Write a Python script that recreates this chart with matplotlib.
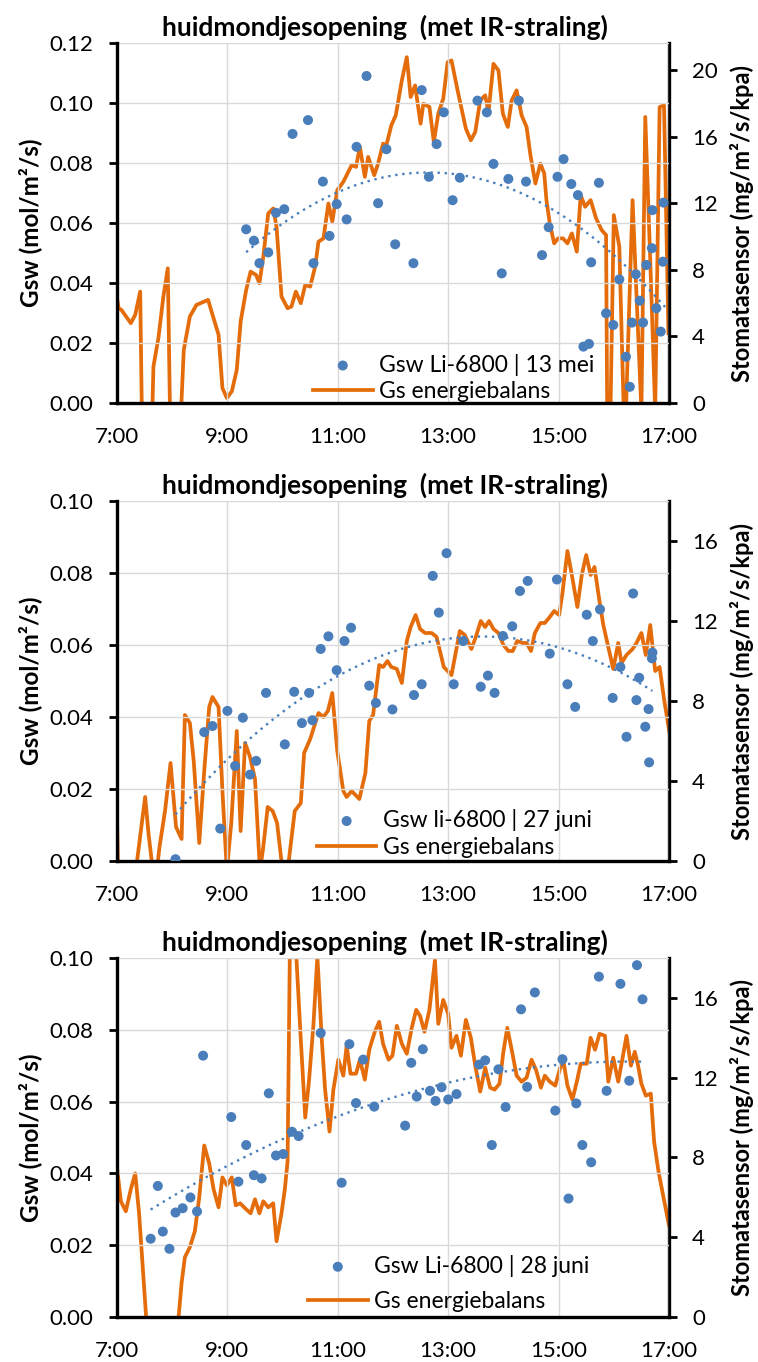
import numpy as np
import matplotlib.pyplot as plt
from matplotlib.ticker import FixedLocator, FuncFormatter, MultipleLocator

plt.rcParams['font.family'] = ['Lato', 'DejaVu Sans']

ORANGE = "#E46C0A"
BLUE = "#4A7EBB"
GRID = "#D9D9D9"

# ---------------- 13 mei ----------------
t1_gsw = [9.34, 9.48, 9.58, 9.74, 9.88, 10.03, 10.18, 10.46, 10.56, 10.73, 10.85, 10.98,
          11.16, 11.34, 11.52, 11.73, 11.88, 12.04, 12.37, 12.52, 12.65, 12.79, 12.92,
          13.08, 13.21, 13.53, 13.70, 13.82, 13.97, 14.09, 14.28, 14.41, 14.70, 14.82,
          14.98, 15.09, 15.23, 15.35, 15.45, 15.55, 15.59, 15.73, 15.86, 15.99, 16.10,
          16.22, 16.29, 16.33, 16.40, 16.47, 16.53, 16.59, 16.69, 16.70, 16.77, 16.85,
          16.89, 16.90]
gsw1 = [0.0579, 0.0541, 0.0466, 0.0502, 0.0634, 0.0646, 0.0897, 0.0943, 0.0466, 0.0738,
        0.0557, 0.0663, 0.0612, 0.0854, 0.1090, 0.0666, 0.0846, 0.0529, 0.0466, 0.1043,
        0.0754, 0.0863, 0.0969, 0.0676, 0.0751, 0.1008, 0.0969, 0.0797, 0.0432, 0.0747,
        0.1008, 0.0738, 0.0493, 0.0586, 0.0754, 0.0813, 0.0730, 0.0693, 0.0188, 0.0197,
        0.0469, 0.0734, 0.0299, 0.0260, 0.0412, 0.0154, 0.0054, 0.0268, 0.0429, 0.0341,
        0.0268, 0.0460, 0.0516, 0.0643, 0.0316, 0.0238, 0.0471, 0.0668]
# Excel trendline of this day (Excel's own fit differs a bit)
t1_trend = [9.34, 10.26, 11.04, 12.31, 12.85, 14.06, 15.27, 16.23, 16.93]
g1_trend = [0.0499, 0.0632, 0.0712, 0.0763, 0.0766, 0.0719, 0.0599, 0.0454, 0.0321]
t1_gs = [7.00, 7.03, 7.08, 7.25, 7.33, 7.42, 7.45, 7.64, 7.66, 7.75, 7.84, 7.92, 7.96,
         8.16, 8.21, 8.32, 8.44, 8.65, 8.84, 8.91, 8.99, 9.08, 9.17, 9.24, 9.34, 9.42,
         9.52, 9.58, 9.65, 9.74, 9.83, 9.89, 9.98, 10.09, 10.16, 10.24, 10.33, 10.41,
         10.50, 10.59, 10.65, 10.74, 10.83, 10.90, 10.99, 11.10, 11.25, 11.33, 11.40,
         11.49, 11.55, 11.66, 11.73, 11.82, 11.88, 11.97, 12.05, 12.16, 12.25, 12.32,
         12.40, 12.50, 12.55, 12.66, 12.74, 12.82, 12.91, 12.99, 13.06, 13.17, 13.32,
         13.41, 13.49, 13.58, 13.67, 13.73, 13.82, 13.91, 13.99, 14.08, 14.15, 14.24,
         14.33, 14.42, 14.49, 14.58, 14.67, 14.74, 14.78, 14.84, 14.92, 14.99, 15.08,
         15.16, 15.24, 15.33, 15.40, 15.48, 15.58, 15.68, 15.78, 15.86, 15.88, 15.94,
         16.00, 16.10, 16.18, 16.22, 16.34, 16.41, 16.50, 16.57, 16.66, 16.75, 16.83,
         16.91, 16.99]
gs1 = [6.3, 5.7, 5.6, 4.8, 5.3, 6.7, -0.5, -0.5, 2.2, 3.9, 6.4, 8.1, -0.5,
       -0.5, 3.2, 5.2, 5.9, 6.2, 4.1, 0.9, 0.3, 0.7, 2.0, 4.9, 6.8, 7.9,
       7.7, 7.2, 8.8, 11.4, 11.7, 10.6, 6.4, 5.7, 5.8, 6.7, 6.0, 7.1,
       7.0, 8.2, 9.7, 9.9, 12.0, 10.9, 12.8, 13.3, 14.3, 14.2, 15.4,
       13.6, 14.8, 13.7, 14.4, 15.6, 15.5, 16.7, 17.3, 19.4, 20.8, 18.4,
       19.1, 16.8, 18.0, 17.8, 15.7, 17.4, 18.3, 20.5, 20.6, 18.8, 16.5,
       15.8, 16.3, 18.2, 18.5, 17.5, 20.4, 20.0, 17.4, 16.6, 18.2, 18.8,
       17.3, 16.6, 14.9, 13.2, 14.4, 13.8, 12.2, 10.8, 9.6, 9.9, 9.9,
       9.6, 10.2, 9.1, 12.5, 11.8, 12.2, 11.1, 10.4, 10.1, -0.5, -0.5,
       11.3, 9.4, -0.5, -0.5, 12.2, 6.6, -0.5, 17.2, 8.6, -0.5, 17.8,
       17.9, 4.2]

# ---------------- 27 juni ----------------
t2_gsw = [8.06, 8.58, 8.73, 8.87, 9.00, 9.14, 9.28, 9.41, 9.52, 9.70, 10.04, 10.21,
          10.35, 10.48, 10.54, 10.69, 10.83, 10.98, 11.12, 11.24, 11.57, 11.69, 11.99,
          12.38, 12.52, 12.72, 12.83, 12.97, 13.10, 13.27, 13.59, 13.72, 13.84, 13.99,
          14.16, 14.30, 14.44, 14.84, 14.97, 15.16, 15.30, 15.51, 15.62, 15.75, 15.98,
          16.12, 16.23, 16.35, 16.41, 16.46, 16.57, 16.63, 16.64, 16.69, 16.70]
gsw2 = [0.0005, 0.0358, 0.0375, 0.0090, 0.0417, 0.0264, 0.0398, 0.0240, 0.0278, 0.0467,
        0.0324, 0.0470, 0.0383, 0.0467, 0.0391, 0.0589, 0.0624, 0.0530, 0.0611, 0.0648,
        0.0487, 0.0439, 0.0421, 0.0461, 0.0491, 0.0792, 0.0690, 0.0855, 0.0491, 0.0611,
        0.0484, 0.0515, 0.0467, 0.0625, 0.0652, 0.0750, 0.0778, 0.0576, 0.0782, 0.0491,
        0.0428, 0.0684, 0.0611, 0.0699, 0.0453, 0.0539, 0.0345, 0.0743, 0.0447, 0.0509,
        0.0373, 0.0422, 0.0274, 0.0563, 0.0579]
t2_gs = [7.00, 7.02, 7.34, 7.51, 7.57, 7.65, 7.72, 7.77, 7.87, 7.97, 8.07, 8.17, 8.23,
         8.32, 8.39, 8.49, 8.58, 8.67, 8.73, 8.84, 8.91, 8.99, 9.07, 9.17, 9.24, 9.32,
         9.41, 9.50, 9.59, 9.65, 9.73, 9.82, 9.90, 10.00, 10.09, 10.22, 10.33, 10.39,
         10.50, 10.65, 10.74, 10.82, 10.90, 10.99, 11.10, 11.16, 11.25, 11.39, 11.50,
         11.57, 11.64, 11.75, 11.82, 11.90, 11.97, 12.07, 12.16, 12.25, 12.32, 12.41,
         12.49, 12.58, 12.70, 12.79, 12.92, 13.06, 13.21, 13.30, 13.42, 13.50, 13.59,
         13.67, 13.74, 13.82, 13.91, 14.00, 14.09, 14.17, 14.25, 14.35, 14.42, 14.50,
         14.57, 14.67, 14.75, 14.84, 14.92, 15.01, 15.07, 15.16, 15.24, 15.34, 15.42,
         15.50, 15.58, 15.65, 15.74, 15.81, 15.90, 15.99, 16.08, 16.14, 16.23, 16.34,
         16.41, 16.50, 16.58, 16.66, 16.75, 16.83, 16.91, 17.01]
gs2 = [2.1, -0.5, -0.5, 3.2, 1.4, -0.5, -0.5, 0.7, 2.5, 4.9, 1.7, 1.1, 7.3,
       6.9, 5.0, 0.9, 4.5, 7.7, 8.2, 7.7, 3.5, -0.5, 1.9, 6.5, 1.5, 5.9,
       5.2, 4.1, -0.5, 0.7, 2.7, 2.5, 1.9, -0.5, -0.5, 2.5, 2.9, 5.4,
       6.1, 7.4, 7.2, 7.5, 8.4, 5.5, 3.5, 3.2, 3.5, 3.1, 4.4,
       7.0, 7.3, 9.8, 9.7, 10.0, 9.7, 9.6, 8.9, 11.0, 11.7, 12.3,
       11.6, 11.4, 11.4, 11.2, 9.7, 9.3, 11.5, 11.3, 10.6, 11.2, 12.0,
       11.7, 12.0, 11.6, 11.4, 10.8, 10.5, 10.5, 11.0, 10.9, 10.9, 10.5,
       11.4, 11.9, 11.9, 12.2, 12.5, 12.3, 13.4, 15.5, 14.3, 12.7, 14.3,
       15.3, 14.3, 14.7, 13.0, 11.8, 10.7, 9.6, 10.9, 9.9, 10.3, 10.6,
       10.9, 11.4, 10.3, 11.8, 9.5, 9.7, 8.1, 6.4]

# ---------------- 28 juni ----------------
t3_gsw = [7.61, 7.74, 7.83, 7.95, 8.06, 8.19, 8.33, 8.45, 8.56, 9.07, 9.20, 9.34,
          9.48, 9.62, 9.75, 9.88, 10.01, 10.17, 10.29, 10.69, 11.07, 11.21, 11.33,
          11.46, 11.66, 12.22, 12.33, 12.43, 12.54, 12.67, 12.77, 12.88, 13.00, 13.15,
          13.56, 13.67, 13.79, 13.91, 14.04, 14.32, 14.43, 14.57, 14.94, 15.07, 15.18,
          15.32, 15.43, 15.59, 15.73, 15.87, 16.12, 16.28, 16.42, 16.52]
gsw3 = [0.0218, 0.0365, 0.0238, 0.0190, 0.0291, 0.0303, 0.0333, 0.0294, 0.0728, 0.0557,
        0.0377, 0.0479, 0.0395, 0.0386, 0.0623, 0.0450, 0.0454, 0.0516, 0.0504, 0.0791,
        0.0374, 0.0760, 0.0596, 0.0717, 0.0586, 0.0533, 0.0708, 0.0614, 0.0746, 0.0630,
        0.0602, 0.0640, 0.0606, 0.0621, 0.0703, 0.0715, 0.0479, 0.0690, 0.0585, 0.0857,
        0.0641, 0.0904, 0.0575, 0.0718, 0.0330, 0.0595, 0.0479, 0.0431, 0.0948, 0.0630,
        0.0928, 0.0658, 0.0980, 0.0885]
t3_gs = [7.00, 7.07, 7.16, 7.25, 7.33, 7.40, 7.54, 8.10, 8.17, 8.23, 8.32, 8.41, 8.49,
         8.58, 8.67, 8.75, 8.84, 8.91, 8.99, 9.08, 9.15, 9.23, 9.34, 9.42, 9.50, 9.58,
         9.65, 9.74, 9.83, 9.89, 9.98, 10.04, 10.09, 10.13, 10.18, 10.25, 10.33, 10.41,
         10.48, 10.56, 10.63, 10.71, 10.77, 10.85, 10.92, 11.01, 11.10, 11.16, 11.23,
         11.33, 11.40, 11.49, 11.57, 11.67, 11.75, 11.82, 11.92, 11.99, 12.07, 12.16,
         12.25, 12.34, 12.42, 12.49, 12.57, 12.66, 12.76, 12.82, 12.91, 13.00, 13.06,
         13.15, 13.23, 13.32, 13.41, 13.49, 13.58, 13.67, 13.76, 13.84, 13.93, 14.00,
         14.07, 14.15, 14.24, 14.33, 14.42, 14.51, 14.59, 14.68, 14.75, 14.84, 14.94,
         15.03, 15.09, 15.16, 15.25, 15.33, 15.40, 15.51, 15.58, 15.66, 15.74, 15.84,
         15.90, 15.99, 16.08, 16.16, 16.23, 16.31, 16.38, 16.44, 16.50, 16.58, 16.67,
         16.73, 16.81, 16.90, 17.00]
gs3 = [7.5, 5.8, 5.3, 6.4, 7.2, 5.2, -0.5, -0.5, 1.7, 3.0, 3.5, 4.3, 6.0,
       8.6, 7.7, 6.4, 5.5, 7.0, 6.6, 7.0, 5.6, 5.7, 5.4, 5.2, 5.9, 5.2,
       5.8, 5.5, 5.7, 3.8, 5.2, 6.4, 7.8, 18.0, 19.5, 18.0, 13.9, 10.0,
       11.9, 14.7, 18.1, 13.9, 11.4, 9.3, 11.4, 12.9, 12.1, 13.6, 12.2,
       12.2, 12.9, 11.9, 13.4, 14.3, 14.8, 13.7, 12.9, 13.1, 14.6, 13.7,
       13.2, 14.5, 15.4, 15.1, 14.3, 15.4, 17.9, 14.7, 15.9, 15.2, 13.5,
       14.1, 13.1, 14.9, 14.0, 12.6, 11.3, 12.5, 11.5, 11.4, 11.7, 13.3,
       14.5, 13.4, 12.1, 11.8, 12.0, 12.9, 12.4, 11.5, 12.1, 11.8, 11.6,
       12.5, 12.8, 11.6, 10.9, 11.8, 12.7, 12.7, 14.0, 13.4, 14.2, 14.1,
       11.8, 13.0, 11.8, 13.0, 14.1, 12.6, 13.3, 12.6, 11.7, 11.1, 11.2,
       8.8, 7.3, 6.0, 4.6]

panels = [
    dict(t_gsw=t1_gsw, gsw=gsw1, t_gs=t1_gs, gs=gs1, trend=(t1_trend, g1_trend),
         ymax=0.12, rmax=21.65, label="Gsw Li-6800 | 13 mei",
         top=43, bottom=403, leg=(0.355, 0.004), lsp=0.22),
    dict(t_gsw=t2_gsw, gsw=gsw2, t_gs=t2_gs, gs=gs2, trend=None,
         ymax=0.10, rmax=18.0, label="Gsw li-6800 | 27 juni",
         top=501, bottom=861, leg=(0.362, 0.009), lsp=0.25),
    dict(t_gsw=t3_gsw, gsw=gsw3, t_gs=t3_gs, gs=gs3, trend=None,
         ymax=0.10, rmax=18.0, label="Gsw Li-6800 | 28 juni",
         top=958, bottom=1317, leg=(0.346, 0.014), lsp=0.62),
]

W, H = 758, 1362
FS = 16

fig = plt.figure(figsize=(W / 100, H / 100), dpi=100)

for p in panels:
    left, right = 117, 669
    ax = fig.add_axes([left / W, 1 - p["bottom"] / H, (right - left) / W,
                       (p["bottom"] - p["top"]) / H])
    ax2 = ax.twinx()
    ax.set_zorder(1)
    ax.patch.set_visible(False)
    ax2.set_zorder(0)

    ax.set_xlim(7, 17)
    ax.set_ylim(0, p["ymax"])
    ax2.set_ylim(0, p["rmax"])

    ax.xaxis.set_major_locator(FixedLocator([7, 9, 11, 13, 15, 17]))
    ax.xaxis.set_major_formatter(FuncFormatter(lambda v, pos: f"{int(round(v))}:00"))
    ax.yaxis.set_major_locator(MultipleLocator(0.02))
    ax.yaxis.set_major_formatter(FuncFormatter(lambda v, pos: f"{v:.2f}"))
    ax2.yaxis.set_major_locator(MultipleLocator(4))

    ax.grid(True, color=GRID, linewidth=1.0)
    ax.set_axisbelow(True)

    for a in (ax, ax2):
        a.spines["top"].set_visible(False)
        for s in ("left", "right", "bottom"):
            a.spines[s].set_linewidth(2.4)
            a.spines[s].set_color("black")
    ax.spines["right"].set_visible(False)
    ax2.spines["left"].set_visible(False)
    ax2.spines["bottom"].set_visible(False)

    ax.tick_params(axis="y", direction="out", length=6, width=2, labelsize=FS, pad=11)
    ax.tick_params(axis="x", length=0, labelsize=FS, pad=17)
    ax2.tick_params(axis="y", direction="out", length=6, width=2, labelsize=FS, pad=10.5)

    line, = ax2.plot(p["t_gs"], p["gs"], color=ORANGE, linewidth=2.7,
                     label="Gs energiebalans")
    sc = ax.scatter(p["t_gsw"], p["gsw"], s=52, color=BLUE, edgecolors="none",
                    label=p["label"], zorder=3)

    # 2nd order polynomial trendline
    if p["trend"] is None:
        tx, ty = np.asarray(p["t_gsw"]), np.asarray(p["gsw"])
    else:
        tx, ty = np.asarray(p["trend"][0]), np.asarray(p["trend"][1])
    coef = np.polyfit(tx, ty, 2)
    tt = np.linspace(tx.min(), tx.max(), 200)
    ax.plot(tt, np.polyval(coef, tt), color=BLUE, linestyle=(0, (1, 2)),
            linewidth=1.7, zorder=2)

    ax.set_ylabel("Gsw (mol/m²/s)", fontsize=17.5, fontweight="bold", labelpad=5)
    ax2.set_ylabel("Stomatasensor (mg/m²/s/kpa)", fontsize=17, fontweight="bold",
                   labelpad=9)
    ax.set_title("huidmondjesopening  (met IR-straling)", fontsize=19, fontweight="bold",
                 pad=5, x=0.485)

    ax.legend([sc, line], [p["label"], "Gs energiebalans"], loc="lower left",
              bbox_to_anchor=p["leg"], frameon=False, fontsize=16.5,
              scatterpoints=1, handlelength=2.6, handletextpad=0.3,
              borderpad=0, borderaxespad=0, labelspacing=p["lsp"])

fig.savefig("out.png", dpi=100)
